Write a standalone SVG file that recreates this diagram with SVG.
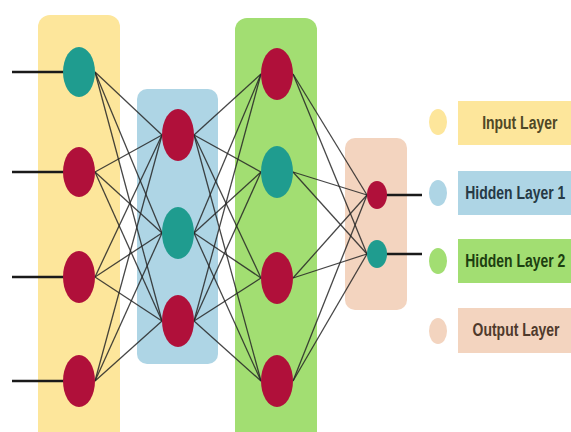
<svg xmlns="http://www.w3.org/2000/svg" width="571" height="432" viewBox="0 0 571 432">
<style>
.red{fill:#b0103a}
.teal{fill:#1f9c8f}
.conn line{stroke:#262626;stroke-width:1.3;stroke-opacity:0.85}
.io line{stroke:#1a1a1a;stroke-width:2.5}
.lbl{font-family:"Liberation Sans",Arial,sans-serif;font-size:19px;font-weight:bold;dominant-baseline:central}
</style>
<rect width="571" height="432" fill="#ffffff"/>
<g id="panel-input"><rect x="38" y="15" width="82" height="430" rx="12" fill="#fde69b"/></g>
<g id="panel-hidden1"><rect x="137" y="89" width="81" height="275" rx="10" fill="#aed5e5"/></g>
<g id="panel-hidden2"><rect x="235" y="18" width="82" height="427" rx="12" fill="#a2de72"/></g>
<g id="panel-output"><rect x="345" y="138" width="62" height="172" rx="10" fill="#f3d4bf"/></g>
<g id="connectors">
<g class="io">
<line x1="12" y1="72" x2="64" y2="72"/>
<line x1="12" y1="172" x2="64" y2="172"/>
<line x1="12" y1="277" x2="64" y2="277"/>
<line x1="12" y1="381" x2="64" y2="381"/>
<line x1="386" y1="195" x2="422" y2="195"/>
<line x1="386" y1="254" x2="422" y2="254"/>
</g>
<g class="conn">
<line x1="95" y1="72" x2="162" y2="135"/><line x1="95" y1="72" x2="162" y2="233"/><line x1="95" y1="72" x2="162" y2="321"/>
<line x1="95" y1="172" x2="162" y2="135"/><line x1="95" y1="172" x2="162" y2="233"/><line x1="95" y1="172" x2="162" y2="321"/>
<line x1="95" y1="277" x2="162" y2="135"/><line x1="95" y1="277" x2="162" y2="233"/><line x1="95" y1="277" x2="162" y2="321"/>
<line x1="95" y1="381" x2="162" y2="135"/><line x1="95" y1="381" x2="162" y2="233"/><line x1="95" y1="381" x2="162" y2="321"/>
<line x1="194" y1="135" x2="261" y2="74"/><line x1="194" y1="135" x2="261" y2="172"/><line x1="194" y1="135" x2="261" y2="278"/><line x1="194" y1="135" x2="261" y2="381"/>
<line x1="194" y1="233" x2="261" y2="74"/><line x1="194" y1="233" x2="261" y2="172"/><line x1="194" y1="233" x2="261" y2="278"/><line x1="194" y1="233" x2="261" y2="381"/>
<line x1="194" y1="321" x2="261" y2="74"/><line x1="194" y1="321" x2="261" y2="172"/><line x1="194" y1="321" x2="261" y2="278"/><line x1="194" y1="321" x2="261" y2="381"/>
<line x1="293" y1="74" x2="367" y2="195"/><line x1="293" y1="74" x2="367" y2="254"/>
<line x1="293" y1="172" x2="367" y2="195"/><line x1="293" y1="172" x2="367" y2="254"/>
<line x1="293" y1="278" x2="367" y2="195"/><line x1="293" y1="278" x2="367" y2="254"/>
<line x1="293" y1="381" x2="367" y2="195"/><line x1="293" y1="381" x2="367" y2="254"/>
</g>
</g>
<g id="in1"><ellipse class="teal" cx="79" cy="72" rx="16" ry="25"/></g>
<g id="in2"><ellipse class="red" cx="79" cy="172" rx="16" ry="25"/></g>
<g id="in3"><ellipse class="red" cx="79" cy="277" rx="16" ry="26"/></g>
<g id="in4"><ellipse class="red" cx="79" cy="381" rx="16" ry="26"/></g>
<g id="h1a"><ellipse class="red" cx="178" cy="135" rx="16" ry="26"/></g>
<g id="h1b"><ellipse class="teal" cx="178" cy="233" rx="16" ry="26"/></g>
<g id="h1c"><ellipse class="red" cx="178" cy="321" rx="16" ry="26"/></g>
<g id="h2a"><ellipse class="red" cx="277" cy="74" rx="16" ry="26"/></g>
<g id="h2b"><ellipse class="teal" cx="277" cy="172" rx="16" ry="26"/></g>
<g id="h2c"><ellipse class="red" cx="277" cy="278" rx="16" ry="26"/></g>
<g id="h2d"><ellipse class="red" cx="277" cy="381" rx="16" ry="26"/></g>
<g id="out1"><ellipse class="red" cx="377" cy="195" rx="10" ry="14"/></g>
<g id="out2"><ellipse class="teal" cx="377" cy="254" rx="10" ry="14"/></g>
<g id="legend-input">
<ellipse cx="438" cy="122" rx="9" ry="13" fill="#fde69b"/>
<rect x="458" y="101" width="113" height="44" fill="#fde69b"/>
<text class="lbl" x="656" y="123" transform="scale(0.735 1)" fill="#4f4826">Input Layer</text>
</g>
<g id="legend-hidden1">
<ellipse cx="438" cy="193" rx="9" ry="13" fill="#aed5e5"/>
<rect x="458" y="171" width="113" height="44" fill="#aed5e5"/>
<text class="lbl" x="633" y="193" transform="scale(0.735 1)" fill="#263a46">Hidden Layer 1</text>
</g>
<g id="legend-hidden2">
<ellipse cx="438" cy="261" rx="9" ry="13" fill="#a2de72"/>
<rect x="458" y="239" width="113" height="44" fill="#a2de72"/>
<text class="lbl" x="633" y="261" transform="scale(0.735 1)" fill="#1d3f10">Hidden Layer 2</text>
</g>
<g id="legend-output">
<ellipse cx="438" cy="331" rx="9" ry="13" fill="#f3d4bf"/>
<rect x="458" y="308" width="113" height="45" fill="#f3d4bf"/>
<text class="lbl" x="643" y="330" transform="scale(0.735 1)" fill="#4f3a2c">Output Layer</text>
</g>
</svg>
